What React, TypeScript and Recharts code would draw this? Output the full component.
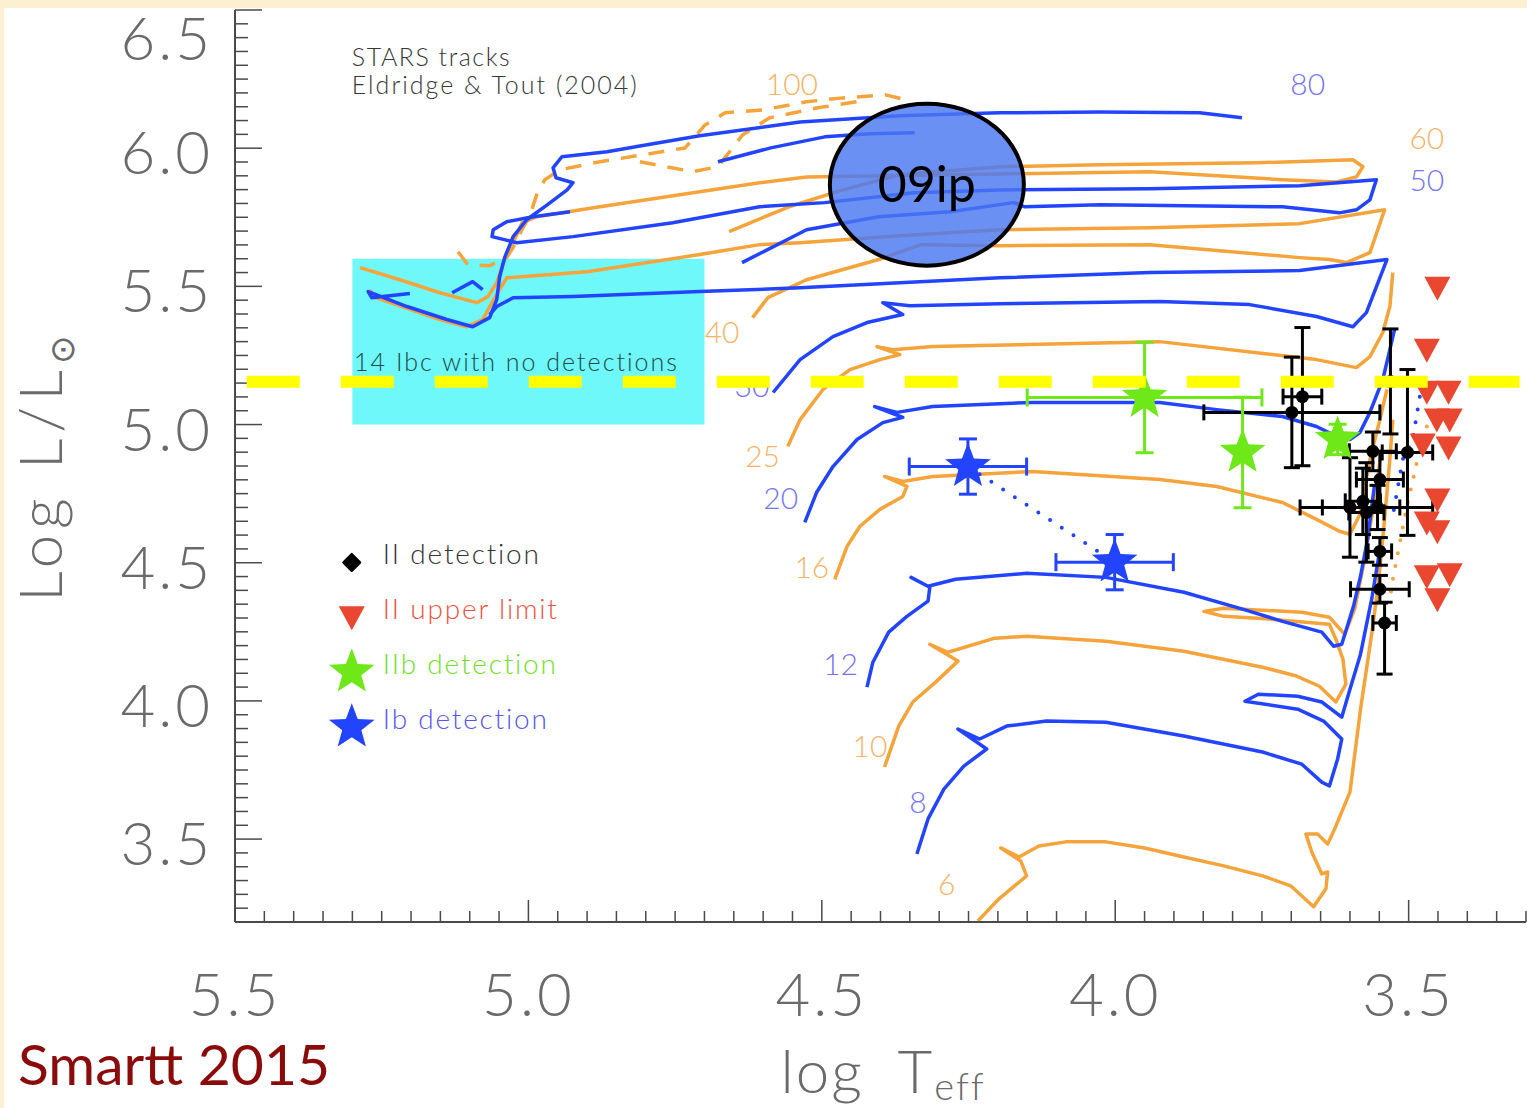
import {
  ComposedChart,
  Line,
  Scatter,
  XAxis,
  YAxis,
  ErrorBar,
  ReferenceArea,
  ReferenceLine,
  ReferenceDot,
} from 'recharts';

type Pt = [number, number];
// [log Teff, log L, x error, y error]
type Obs = [number, number, number, number | [number, number]];

// STARS evolutionary tracks, [log Teff, log L/Lsun]
const track100a: Pt[] = [
  [5.120, 5.625], [5.103, 5.578], [5.066, 5.575], [5.037, 5.604], [5.023, 5.651],
  [5.011, 5.705], [4.997, 5.759], [4.986, 5.831], [4.972, 5.886], [4.946, 5.922],
  [4.878, 5.951], [4.793, 5.980], [4.733, 6.001], [4.699, 6.084], [4.665, 6.128],
  [4.599, 6.139], [4.526, 6.168], [4.464, 6.182], [4.391, 6.193], [4.362, 6.178],
];
const track100b: Pt[] = [
  [4.810, 5.951], [4.720, 5.915], [4.677, 5.933], [4.635, 6.048], [4.589, 6.110],
  [4.507, 6.146], [4.440, 6.168],
];
const track80: Pt[] = [
  [3.784, 6.110], [3.856, 6.128], [4.026, 6.131], [4.197, 6.128], [4.367, 6.117],
  [4.537, 6.095], [4.708, 6.045], [4.810, 6.008], [4.866, 5.987], [4.943, 5.969],
  [4.958, 5.929], [4.953, 5.893], [4.924, 5.875], [4.934, 5.849], [4.968, 5.795],
  [5.003, 5.741], [5.026, 5.680], [5.040, 5.607], [5.049, 5.535], [5.054, 5.452],
  [5.066, 5.387], [5.095, 5.354], [5.139, 5.380], [5.207, 5.427], [5.273, 5.481],
  [5.267, 5.459], [5.202, 5.474],
];
const track80b: Pt[] = [
  [4.677, 5.951], [4.587, 6.001], [4.495, 6.041], [4.418, 6.052], [4.342, 6.056],
];
const wrHook: Pt[] = [[5.130, 5.477], [5.095, 5.517], [5.078, 5.488]];
const track60: Pt[] = [
  [4.658, 5.698], [4.556, 5.788], [4.464, 5.849], [4.367, 5.904], [4.197, 5.933],
  [4.026, 5.940], [3.759, 5.947], [3.595, 5.958], [3.578, 5.933], [3.589, 5.896],
  [3.623, 5.878], [3.715, 5.886], [3.941, 5.915], [4.197, 5.907], [4.526, 5.896],
  [4.606, 5.875], [4.708, 5.842], [4.878, 5.788], [4.986, 5.752], [5.011, 5.730],
  [5.026, 5.658], [5.043, 5.586], [5.054, 5.513], [5.069, 5.463], [5.088, 5.441],
  [5.151, 5.477], [5.219, 5.524], [5.287, 5.568],
];
const track50: Pt[] = [
  [4.636, 5.586], [4.526, 5.705], [4.403, 5.752], [4.282, 5.770], [4.173, 5.803],
  [4.154, 5.788], [4.026, 5.795], [3.715, 5.788], [3.618, 5.766], [3.589, 5.777],
  [3.566, 5.813], [3.555, 5.886], [3.686, 5.864], [3.941, 5.853], [4.197, 5.849],
  [4.343, 5.839], [4.495, 5.803], [4.606, 5.788], [4.754, 5.730], [4.924, 5.680],
  [5.020, 5.658], [5.062, 5.680], [5.060, 5.705], [5.037, 5.734], [4.992, 5.752],
  [4.929, 5.770],
];
const track40: Pt[] = [
  [4.618, 5.387], [4.592, 5.459], [4.526, 5.524], [4.403, 5.597], [4.331, 5.651],
  [4.197, 5.647], [3.941, 5.651], [3.686, 5.604], [3.635, 5.597], [3.606, 5.586],
  [3.566, 5.622], [3.541, 5.777], [3.686, 5.727], [3.941, 5.712], [4.197, 5.705],
  [4.367, 5.683], [4.537, 5.658], [4.606, 5.651], [4.708, 5.615], [4.900, 5.553],
  [5.037, 5.531], [5.049, 5.488], [5.062, 5.441], [5.078, 5.380], [5.105, 5.354],
  [5.151, 5.380], [5.265, 5.463], [5.270, 5.488],
];
const track30: Pt[] = [
  [4.583, 5.116], [4.537, 5.235], [4.481, 5.318], [4.423, 5.369], [4.362, 5.398],
  [4.396, 5.441], [4.350, 5.430], [4.197, 5.437], [3.924, 5.445], [3.771, 5.434],
  [3.657, 5.391], [3.595, 5.354], [3.572, 5.405], [3.537, 5.597], [3.686, 5.557],
  [3.941, 5.550], [4.197, 5.531], [4.367, 5.513], [4.537, 5.495], [4.708, 5.481],
  [4.924, 5.463], [5.026, 5.459], [5.054, 5.427], [5.066, 5.398],
];
const track25: Pt[] = [
  [4.558, 4.921], [4.537, 5.018], [4.498, 5.127], [4.452, 5.199], [4.401, 5.235],
  [4.367, 5.253], [4.406, 5.282], [4.379, 5.271], [4.311, 5.282], [3.924, 5.300],
  [3.657, 5.235], [3.589, 5.206], [3.566, 5.246], [3.544, 5.333], [3.532, 5.427],
  [3.527, 5.550],
];
const track20: Pt[] = [
  [4.529, 4.646], [4.509, 4.754], [4.481, 4.848], [4.440, 4.946], [4.396, 5.007],
  [4.362, 5.026], [4.410, 5.065], [4.372, 5.044], [4.311, 5.065], [4.141, 5.080],
  [3.924, 5.080], [3.827, 5.054], [3.715, 5.029], [3.657, 4.993], [3.623, 4.957],
  [3.600, 4.946], [3.583, 4.971], [3.566, 5.044], [3.544, 5.163], [3.532, 5.271],
  [3.524, 5.344],
];
const track16: Pt[] = [
  [4.478, 4.440], [4.457, 4.559], [4.435, 4.632], [4.401, 4.693], [4.362, 4.740],
  [4.355, 4.776], [4.393, 4.812], [4.362, 4.794], [4.311, 4.812], [4.141, 4.830],
  [3.924, 4.801], [3.827, 4.776], [3.715, 4.718], [3.657, 4.657], [3.618, 4.614],
  [3.600, 4.603], [3.583, 4.675], [3.566, 4.874], [3.549, 5.018], [3.537, 5.127],
];
const track12: Pt[] = [
  [4.423, 4.050], [4.413, 4.140], [4.386, 4.249], [4.355, 4.306], [4.319, 4.361],
  [4.316, 4.411], [4.348, 4.447], [4.319, 4.415], [4.272, 4.440], [4.151, 4.462],
  [4.016, 4.447], [3.883, 4.393], [3.783, 4.332], [3.715, 4.288], [3.648, 4.249],
  [3.628, 4.198], [3.614, 4.205], [3.594, 4.342], [3.582, 4.451], [3.570, 4.585],
  [3.558, 4.783],
];
const track10: Pt[] = [
  [4.393, 3.761], [4.369, 3.909], [4.345, 3.996], [4.306, 4.068], [4.268, 4.144],
  [4.316, 4.205], [4.285, 4.176], [4.205, 4.227], [4.151, 4.234], [4.016, 4.216],
  [3.883, 4.180], [3.749, 4.122], [3.691, 4.090], [3.652, 4.053], [3.624, 3.996],
  [3.607, 4.061], [3.612, 4.151], [3.624, 4.223], [3.635, 4.277], [3.737, 4.296],
  [3.815, 4.306], [3.849, 4.324], [3.815, 4.335], [3.682, 4.321], [3.635, 4.303],
  [3.609, 4.241], [3.592, 4.332], [3.575, 4.512], [3.558, 4.729], [3.546, 4.910],
];
const track8: Pt[] = [
  [4.338, 3.446], [4.319, 3.573], [4.292, 3.681], [4.258, 3.764], [4.219, 3.826],
  [4.268, 3.898], [4.231, 3.862], [4.185, 3.909], [4.117, 3.927], [4.016, 3.923],
  [3.883, 3.873], [3.749, 3.815], [3.682, 3.771], [3.648, 3.706], [3.635, 3.692],
  [3.621, 3.790], [3.614, 3.862], [3.645, 3.927], [3.689, 3.970], [3.779, 3.999],
  [3.756, 4.024], [3.689, 4.017], [3.648, 3.996], [3.614, 3.941], [3.600, 4.042],
  [3.582, 4.169], [3.563, 4.368], [3.549, 4.548],
];
const track6: Pt[] = [
  [4.234, 3.204], [4.198, 3.284], [4.151, 3.367], [4.161, 3.421], [4.195, 3.468],
  [4.164, 3.435], [4.130, 3.475], [4.084, 3.490], [4.016, 3.490], [3.950, 3.468],
  [3.883, 3.435], [3.815, 3.403], [3.749, 3.367], [3.701, 3.331], [3.662, 3.255],
  [3.641, 3.320], [3.638, 3.381], [3.648, 3.374], [3.665, 3.453], [3.675, 3.518],
  [3.655, 3.518], [3.638, 3.482], [3.626, 3.537], [3.600, 3.670], [3.582, 3.970],
  [3.561, 4.270], [3.551, 4.440], [3.541, 4.657], [3.532, 4.874], [3.527, 5.018],
];
const blueDotted: Pt[] = [[3.481, 5.101], [3.493, 4.946], [3.510, 4.874], [3.529, 4.646]];
const orangeDotted: Pt[] = [[3.469, 4.993], [3.486, 4.863], [3.503, 4.704], [3.527, 4.440], [3.532, 4.368]];

// progenitor detections
const iiDetections: Obs[] = [
  [3.681, 5.101, 0.033, 0.25],
  [3.699, 5.044, 0.15, 0.2],
  [3.531, 5.156, 0, 0.19],
  [3.561, 4.903, 0.04, 0.07],
  [3.502, 4.899, 0.043, 0.3],
  [3.549, 4.801, 0.04, 0.1],
  [3.600, 4.700, 0.085, 0.18],
  [3.578, 4.722, 0.03, 0.12],
  [3.572, 4.682, 0.03, 0.18],
  [3.553, 4.700, 0.094, 0.08],
  [3.549, 4.541, 0.02, 0.05],
  [3.549, 4.404, 0.05, 0.05],
  [3.541, 4.282, 0.02, [0.185, 0.075]],
];
const iiLimits: Pt[] = [
  [3.451, 5.495], [3.469, 5.271], [3.469, 5.119], [3.432, 5.119], [3.452, 5.018],
  [3.430, 5.018], [3.476, 4.928], [3.432, 4.917], [3.451, 4.729], [3.469, 4.646],
  [3.451, 4.614], [3.469, 4.451], [3.430, 4.458], [3.451, 4.368],
];
const iibDetections: Obs[] = [
  [3.950, 5.098, 0.2, 0.2],
  [3.783, 4.899, 0, 0.2],
  [3.621, 4.946, 0, 0.055],
];
const ibDetections: Obs[] = [
  [4.251, 4.848, 0.1, 0.1],
  [4.001, 4.502, 0.1, 0.1],
];

const ORANGE = '#f5a33b';
const BLUE = '#2244ff';
const ORANGE_TXT = '#f4b466';
const BLUE_TXT = '#7474f4';
const RED = '#e9472f';
const GREEN = '#6fe81a';
const AXIS = '#4a4a4a';
const THIN = 'Lato, "DejaVu Sans", sans-serif';

const massLabels: [string, number, number, string][] = [
  ['100', 4.551, 6.233, ORANGE_TXT],
  ['80', 3.672, 6.233, BLUE_TXT],
  ['60', 3.469, 6.037, ORANGE_TXT],
  ['50', 3.469, 5.886, BLUE_TXT],
  ['40', 4.670, 5.336, ORANGE_TXT],
  ['30', 4.619, 5.141, BLUE_TXT],
  ['25', 4.601, 4.885, ORANGE_TXT],
  ['20', 4.570, 4.736, BLUE_TXT],
  ['16', 4.517, 4.483, ORANGE_TXT],
  ['12', 4.468, 4.133, BLUE_TXT],
  ['10', 4.418, 3.837, ORANGE_TXT],
  ['8', 4.336, 3.634, BLUE_TXT],
  ['6', 4.287, 3.338, ORANGE_TXT],
];

const X_DOMAIN: [number, number] = [3.3, 5.5];
const Y_DOMAIN: [number, number] = [3.2, 6.5];

function stepTicks(lo: number, hi: number, step: number) {
  const n = Math.round((hi - lo) / step);
  const out: number[] = [];
  for (let i = 0; i <= n; i++) out.push(+(lo + i * step).toFixed(2));
  return out;
}
const xTicks = stepTicks(X_DOMAIN[0], X_DOMAIN[1], 0.05);
const yTicks = stepTicks(Y_DOMAIN[0], Y_DOMAIN[1], 0.05);
const isMajor = (v: number) => Math.abs(v * 2 - Math.round(v * 2)) < 1e-6;

const rows = (pts: Pt[]) => pts.map(([T, L]) => ({ T, L }));
const obsRows = (pts: Obs[]) =>
  pts.map(([T, L, ex, ey]) => ({ T, L, ex: ex || undefined, ey: ey || undefined }));

const tracks = [
  { id: 'm100a', pts: track100a, color: ORANGE, dash: '16 12' },
  { id: 'm100b', pts: track100b, color: ORANGE, dash: '16 12' },
  { id: 'm60', pts: track60, color: ORANGE },
  { id: 'm40', pts: track40, color: ORANGE },
  { id: 'm25', pts: track25, color: ORANGE },
  { id: 'm16', pts: track16, color: ORANGE },
  { id: 'm10', pts: track10, color: ORANGE },
  { id: 'm6', pts: track6, color: ORANGE },
  { id: 'm80', pts: track80, color: BLUE },
  { id: 'm80b', pts: track80b, color: BLUE },
  { id: 'wr', pts: wrHook, color: BLUE },
  { id: 'm50', pts: track50, color: BLUE },
  { id: 'm30', pts: track30, color: BLUE },
  { id: 'm20', pts: track20, color: BLUE },
  { id: 'm12', pts: track12, color: BLUE },
  { id: 'm8', pts: track8, color: BLUE },
];

const tickText = {
  fontFamily: THIN,
  fontWeight: 300,
  fontSize: 60,
  fill: '#6a6a6a',
  letterSpacing: 3,
};
const noteFont = {
  fontFamily: THIN,
  fontWeight: 300,
  fontSize: 25,
  letterSpacing: 1.5,
};

function starPoints(cx: number, cy: number, R: number) {
  const pts: string[] = [];
  for (let i = 0; i < 10; i++) {
    const r = i % 2 === 0 ? R : R * 0.42;
    const a = -Math.PI / 2 + (i * Math.PI) / 5;
    pts.push(`${cx + r * Math.cos(a)},${cy + r * Math.sin(a)}`);
  }
  return pts.join(' ');
}
const triPoints = (cx: number, cy: number) =>
  `${cx - 13},${cy - 11} ${cx + 13},${cy - 11} ${cx},${cy + 13}`;
const diamondPoints = (cx: number, cy: number) =>
  `${cx},${cy - 8} ${cx + 8},${cy} ${cx},${cy + 8} ${cx - 8},${cy}`;

function BottomTick(p: any) {
  const v = p.payload.value;
  const major = isMajor(v);
  return (
    <g>
      <line x1={p.x} y1={p.y} x2={p.x} y2={p.y - (major ? 22 : 11)} stroke={AXIS} strokeWidth={1.5} />
      {major && (
        <text x={p.x} y={p.y + 94} textAnchor="middle" style={tickText}>
          {v.toFixed(1)}
        </text>
      )}
    </g>
  );
}
function TopTick(p: any) {
  const major = isMajor(p.payload.value);
  return <line x1={p.x} y1={p.y} x2={p.x} y2={p.y + (major ? 22 : 11)} stroke={AXIS} strokeWidth={1.5} />;
}
function LeftTick(p: any) {
  const v = p.payload.value;
  const major = isMajor(v);
  const atTop = Math.abs(v - Y_DOMAIN[1]) < 1e-6;
  return (
    <g>
      <line x1={p.x} y1={p.y} x2={p.x + (major ? 27 : 13)} y2={p.y} stroke={AXIS} strokeWidth={1.5} />
      {major && (
        <text x={p.x - 22} y={p.y + (atTop ? 50 : 26)} textAnchor="end" style={tickText}>
          {v.toFixed(1)}
        </text>
      )}
    </g>
  );
}
function RightTick(p: any) {
  const major = isMajor(p.payload.value);
  return <line x1={p.x} y1={p.y} x2={p.x - (major ? 27 : 13)} y2={p.y} stroke={AXIS} strokeWidth={1.5} />;
}

const renderXTitle = (props: any) => {
  const vb = props.viewBox;
  const cx = vb.x + vb.width / 2;
  return (
    <text x={cx - 100} y={vb.y + 171} style={{ ...tickText, letterSpacing: 2 }}>
      log
      <tspan dx={40}>T</tspan>
      <tspan dy={7} fontSize={38}>eff</tspan>
    </text>
  );
};
const renderYTitle = (props: any) => {
  const vb = props.viewBox;
  const cy = vb.y + vb.height / 2;
  const x = 62;
  return (
    <text
      transform={`rotate(-90 ${x} ${cy})`}
      x={x}
      y={cy}
      textAnchor="middle"
      style={{ ...tickText, letterSpacing: 6 }}
    >
      Log
      <tspan dx={24}>L/L</tspan>
      <tspan dy={12} fontSize={34}>⊙</tspan>
    </text>
  );
};

const legendItems = [
  { label: 'II detection', color: '#333333', kind: 'dot', y: 4.53 },
  { label: 'II upper limit', color: '#ee5241', kind: 'tri', y: 4.332 },
  { label: 'IIb detection', color: '#72e02a', kind: 'iib', y: 4.133 },
  { label: 'Ib detection', color: '#5656f2', kind: 'ib', y: 3.934 },
];

export default function App() {
  return (
    <div
      style={{
        position: 'absolute',
        left: 0,
        top: 0,
        width: 1527,
        height: 1108,
        background: '#fdefd1',
        overflow: 'hidden',
      }}
    >
      <div style={{ position: 'absolute', left: 4, top: 8, width: 1523, height: 1100, background: '#fff' }} />
      <div style={{ position: 'absolute', left: 0, top: 0 }}>
        <ComposedChart width={1527} height={1108} margin={{ top: 10, right: 1, bottom: 0, left: 0 }}>
          <XAxis
            dataKey="T"
            type="number"
            domain={X_DOMAIN}
            reversed
            allowDataOverflow
            ticks={xTicks}
            interval={0}
            tickLine={false}
            tickSize={0}
            tickMargin={0}
            height={186}
            axisLine={{ stroke: AXIS, strokeWidth: 2 }}
            tick={BottomTick}
            label={renderXTitle}
          />
          <XAxis
            xAxisId="top"
            orientation="top"
            dataKey="T"
            type="number"
            domain={X_DOMAIN}
            reversed
            allowDataOverflow
            ticks={xTicks}
            interval={0}
            tickLine={false}
            tickSize={0}
            tickMargin={0}
            height={0}
            axisLine={{ stroke: AXIS, strokeWidth: 2 }}
            tick={TopTick}
          />
          <YAxis
            dataKey="L"
            type="number"
            domain={Y_DOMAIN}
            allowDataOverflow
            ticks={yTicks}
            interval={0}
            tickLine={false}
            tickSize={0}
            tickMargin={0}
            width={235}
            axisLine={{ stroke: AXIS, strokeWidth: 2 }}
            tick={LeftTick}
            label={renderYTitle}
          />
          <YAxis
            yAxisId="right"
            orientation="right"
            dataKey="L"
            type="number"
            domain={Y_DOMAIN}
            allowDataOverflow
            ticks={yTicks}
            interval={0}
            tickLine={false}
            tickSize={0}
            tickMargin={0}
            width={0}
            axisLine={{ stroke: AXIS, strokeWidth: 2 }}
            tick={RightTick}
          />

          <ReferenceArea x1={4.7} x2={5.3} y1={5.0} y2={5.6} fill="#6ff8f9" fillOpacity={1} stroke="none" />

          {tracks.map((t) => (
            <Line
              key={t.id}
              data={rows(t.pts)}
              dataKey="L"
              type="linear"
              stroke={t.color}
              strokeWidth={3.5}
              strokeDasharray={t.dash}
              strokeLinejoin="round"
              dot={false}
              activeDot={false}
              isAnimationActive={false}
            />
          ))}
          <Line
            data={rows(blueDotted)}
            dataKey="L"
            stroke={BLUE}
            strokeWidth={4}
            strokeDasharray="0 13"
            strokeLinecap="round"
            dot={false}
            activeDot={false}
            isAnimationActive={false}
          />
          <Line
            data={rows(orangeDotted)}
            dataKey="L"
            stroke={ORANGE}
            strokeWidth={4}
            strokeDasharray="0 13"
            strokeLinecap="round"
            dot={false}
            activeDot={false}
            isAnimationActive={false}
          />
          <Line
            data={rows(ibDetections.map(([T, L]) => [T, L] as Pt))}
            dataKey="L"
            stroke={BLUE}
            strokeWidth={4}
            strokeDasharray="0 14"
            strokeLinecap="round"
            dot={false}
            activeDot={false}
            isAnimationActive={false}
          />

          {massLabels.map(([text, T, L, color]) => (
            <ReferenceDot
              key={`m${text}`}
              x={T}
              y={L}
              r={1}
              shape={(p: any) => (
                <text
                  x={p.cx}
                  y={p.cy + 11}
                  textAnchor="middle"
                  style={{ fontFamily: THIN, fontWeight: 300, fontSize: 30, fill: color }}
                >
                  {text}
                </text>
              )}
            />
          ))}

          <ReferenceDot
            x={5.301}
            y={6.33}
            r={1}
            shape={(p: any) => (
              <text x={p.cx} y={p.cy + 9} style={{ ...noteFont, fill: '#383838' }}>
                STARS tracks
              </text>
            )}
          />
          <ReferenceDot
            x={5.301}
            y={6.229}
            r={1}
            shape={(p: any) => (
              <text x={p.cx} y={p.cy + 9} style={{ ...noteFont, fill: '#383838', letterSpacing: 2 }}>
                Eldridge &amp; Tout (2004)
              </text>
            )}
          />
          <ReferenceDot
            x={5.297}
            y={5.228}
            r={1}
            shape={(p: any) => (
              <text x={p.cx} y={p.cy + 9} style={{ ...noteFont, fill: '#244848', letterSpacing: 2 }}>
                14 Ibc with no detections
              </text>
            )}
          />

          {legendItems.map((it) => (
            <ReferenceDot
              key={it.label}
              x={5.301}
              y={it.y}
              r={1}
              shape={(p: any) => {
                const mx = p.cx;
                const my = p.cy + 8;
                let marker = null;
                if (it.kind === 'dot') marker = <polygon points={diamondPoints(mx, my)} fill="#000" stroke="#000" strokeWidth={3} strokeLinejoin="round" />;
                if (it.kind === 'tri') marker = <polygon points={triPoints(mx, my)} fill={RED} />;
                if (it.kind === 'iib') marker = <polygon points={starPoints(mx, my, 24)} fill={GREEN} />;
                if (it.kind === 'ib') marker = <polygon points={starPoints(mx, my, 24)} fill={BLUE} />;
                return (
                  <g>
                    {marker}
                    <text x={p.cx + 31} y={p.cy + 10} style={{ ...noteFont, fontSize: 28, fill: it.color, letterSpacing: 1.8 }}>
                      {it.label}
                    </text>
                  </g>
                );
              }}
            />
          ))}

          <ReferenceDot
            x={4.321}
            y={5.868}
            r={90}
            shape={(p: any) => (
              <g>
                <ellipse cx={p.cx} cy={p.cy} rx={97} ry={81} fill="#4a78f2" fillOpacity={0.82} stroke="#000" strokeWidth={4} />
                <text
                  x={p.cx}
                  y={p.cy + 17}
                  textAnchor="middle"
                  style={{ fontFamily: 'Lato, "Open Sans", sans-serif', fontSize: 50, fill: '#000' }}
                >
                  09ip
                </text>
              </g>
            )}
          />

          <Scatter
            data={obsRows(iiDetections)}
            dataKey="L"
            isAnimationActive={false}
            shape={(p: any) => <circle cx={p.cx} cy={p.cy} r={6.5} fill="#000" />}
          >
            <ErrorBar dataKey="ex" direction="x" width={8} stroke="#000" strokeWidth={3} />
            <ErrorBar dataKey="ey" direction="y" width={8} stroke="#000" strokeWidth={3} />
          </Scatter>
          <Scatter
            data={rows(iiLimits)}
            dataKey="L"
            isAnimationActive={false}
            shape={(p: any) => <polygon points={triPoints(p.cx, p.cy)} fill={RED} />}
          />
          <Scatter
            data={obsRows(iibDetections)}
            dataKey="L"
            isAnimationActive={false}
            shape={(p: any) => <polygon points={starPoints(p.cx, p.cy, 24)} fill={GREEN} />}
          >
            <ErrorBar dataKey="ex" direction="x" width={9} stroke={GREEN} strokeWidth={3} />
            <ErrorBar dataKey="ey" direction="y" width={9} stroke={GREEN} strokeWidth={3} />
          </Scatter>
          <Scatter
            data={obsRows(ibDetections)}
            dataKey="L"
            isAnimationActive={false}
            shape={(p: any) => <polygon points={starPoints(p.cx, p.cy, 24)} fill={BLUE} />}
          >
            <ErrorBar dataKey="ex" direction="x" width={9} stroke={BLUE} strokeWidth={3} />
            <ErrorBar dataKey="ey" direction="y" width={9} stroke={BLUE} strokeWidth={3} />
          </Scatter>

          <ReferenceLine
            segment={[
              { x: 5.48, y: 5.155 },
              { x: 3.311, y: 5.155 },
            ]}
            stroke="#ffff00"
            strokeWidth={12}
            strokeDasharray="53 41"
            zIndex={2000}
          />
        </ComposedChart>
      </div>
      <svg style={{ position: 'absolute', left: 0, top: 0, pointerEvents: 'none' }} width={1527} height={1108}>
        <text x={18} y={1085} style={{ fontFamily: 'Lato, "Open Sans", sans-serif', fontSize: 57, fill: '#8b0b0b' }}>
          Smartt 2015
        </text>
      </svg>
    </div>
  );
}
